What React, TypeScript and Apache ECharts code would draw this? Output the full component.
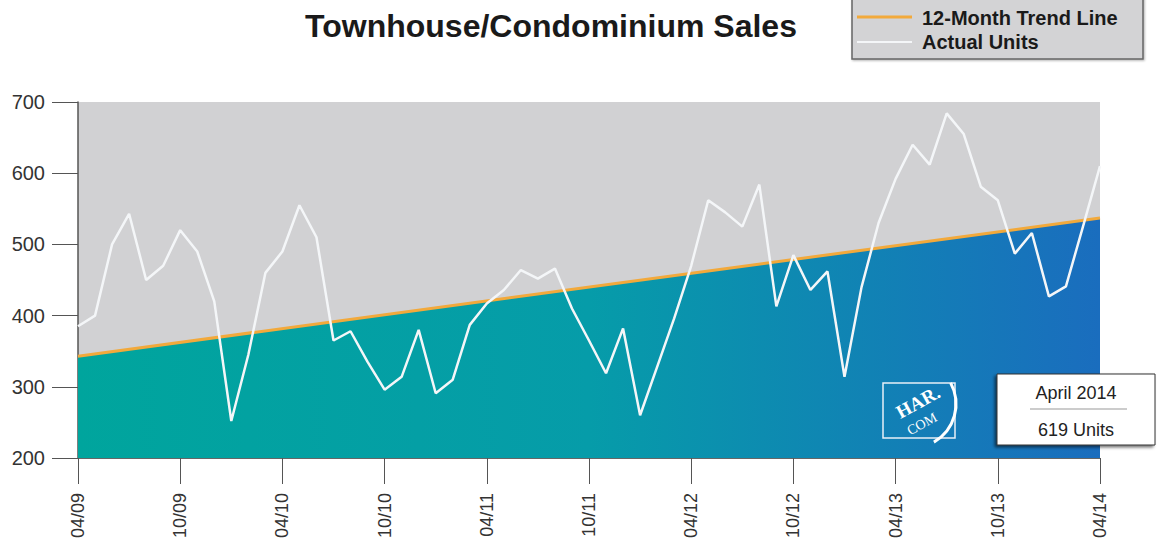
import React, { useEffect, useRef } from "react";
import * as echarts from "echarts";

// Month labels 04/09 .. 04/14
const startYear = 2009;
const startMonth = 4;
const monthCount = 61;
const months: string[] = [];
for (let i = 0; i < monthCount; i++) {
  const idx = startMonth - 1 + i;
  const m = (idx % 12) + 1;
  const y = (startYear + Math.floor(idx / 12)) % 100;
  months.push(`${String(m).padStart(2, "0")}/${String(y).padStart(2, "0")}`);
}

// Actual monthly units
const actualUnits: number[] = [
  385, 400, 500, 543, 450, 470, 520, 490, 420, 252,
  345, 460, 490, 555, 510, 365, 378, 335, 296, 314,
  380, 291, 310, 387, 417, 436, 464, 452, 466, 410,
  365, 319, 382, 260, 328, 396, 470, 562, 545, 525,
  584, 413, 485, 436, 462, 314, 440, 530, 592, 640,
  612, 684, 655, 581, 562, 487, 516, 427, 441, 525,
  610,
];

// 12-month trend line: straight line, end points
const trendStart = 343;
const trendEnd = 537;
const trendLine: (number | null)[] = months.map((_, i) =>
  i === 0 ? trendStart : i === monthCount - 1 ? trendEnd : null
);

const yTicks = { min: 200, max: 700, interval: 100 };

const titleText = "Townhouse/Condominium Sales";
const legendLabels = ["12-Month Trend Line", "Actual Units"];
const calloutLines = ["April 2014", "619 Units"];

const FONT = "'Liberation Sans', Arial, Helvetica, sans-serif";
const SERIF = "'Liberation Serif', 'DejaVu Serif', serif";

export default function App() {
  const ref = useRef<HTMLDivElement>(null);
  useEffect(() => {
    if (!ref.current) return;
    const chart = echarts.init(ref.current, null, { renderer: "svg" });
    chart.setOption({
      animation: false,
      grid: {
        left: 78,
        right: 59,
        top: 102,
        bottom: 90,
        show: true,
        backgroundColor: "#d1d1d3",
        borderWidth: 0,
      },
      xAxis: {
        type: "category",
        data: months,
        boundaryGap: false,
        axisLine: { show: true, lineStyle: { color: "#666", width: 1 } },
        axisTick: { show: true, interval: 5, length: 26, lineStyle: { color: "#555" } },
        axisLabel: {
          interval: 5,
          rotate: 90,
          margin: 35,
          fontSize: 18,
          color: "#333",
          fontFamily: FONT,
        },
        splitLine: { show: false },
      },
      yAxis: {
        type: "value",
        min: yTicks.min,
        max: yTicks.max,
        interval: yTicks.interval,
        axisLine: { show: true, lineStyle: { color: "#555", width: 1.5 } },
        axisTick: { show: true, length: 26, lineStyle: { color: "#555" } },
        axisLabel: { margin: 33, fontSize: 20, color: "#333", fontFamily: FONT },
        splitLine: { show: false },
      },
      series: [
        {
          name: legendLabels[0],
          type: "line",
          data: trendLine,
          connectNulls: true,
          symbol: "none",
          lineStyle: { color: "#f2a93b", width: 3 },
          areaStyle: {
            origin: "start",
            opacity: 1,
            color: new echarts.graphic.LinearGradient(0, 0, 1, 0, [
              { offset: 0, color: "#00a59d" },
              { offset: 0.5, color: "#069ca9" },
              { offset: 1, color: "#1a6dbe" },
            ]),
          },
          z: 2,
        },
        {
          name: legendLabels[1],
          type: "line",
          data: actualUnits,
          symbol: "none",
          lineStyle: { color: "#f4f6f8", width: 2.5 },
          z: 3,
        },
      ],
      graphic: [
        {
          type: "text",
          x: 551,
          y: 26,
          style: {
            text: titleText,
            fontSize: 32,
            fontWeight: "bold",
            fontFamily: FONT,
            fill: "#1a1a1a",
            align: "center",
            verticalAlign: "middle",
          },
        },
        // legend box
        {
          type: "rect",
          shape: { x: 852, y: -5, width: 291, height: 64 },
          style: {
            fill: "#d3d3d5",
            stroke: "#666",
            lineWidth: 1.5,
            shadowBlur: 2,
            shadowOffsetX: 1,
            shadowOffsetY: 1,
            shadowColor: "rgba(0,0,0,0.3)",
          },
          z: 50,
        },
        {
          type: "line",
          shape: { x1: 857, y1: 17, x2: 912, y2: 17 },
          style: { stroke: "#f2a93b", lineWidth: 3 },
          z: 51,
        },
        {
          type: "line",
          shape: { x1: 857, y1: 42, x2: 912, y2: 42 },
          style: { stroke: "#f4f6f8", lineWidth: 2 },
          z: 51,
        },
        {
          type: "text",
          x: 922,
          y: 18,
          style: {
            text: legendLabels[0],
            fontSize: 20,
            fontWeight: "bold",
            fontFamily: FONT,
            fill: "#1a1a1a",
            align: "left",
            verticalAlign: "middle",
          },
          z: 51,
        },
        {
          type: "text",
          x: 922,
          y: 42,
          style: {
            text: legendLabels[1],
            fontSize: 20,
            fontWeight: "bold",
            fontFamily: FONT,
            fill: "#1a1a1a",
            align: "left",
            verticalAlign: "middle",
          },
          z: 51,
        },
        // HAR.COM logo
        {
          type: "rect",
          shape: { x: 883, y: 383, width: 72, height: 55 },
          style: { fill: "none", stroke: "#e8f0f8", lineWidth: 1.5 },
          z: 40,
        },
        {
          type: "text",
          x: 918,
          y: 402,
          rotation: 0.5,
          style: {
            text: "HAR.",
            fontSize: 19,
            fontWeight: "bold",
            fontFamily: SERIF,
            fill: "#ffffff",
            align: "center",
            verticalAlign: "middle",
          },
          z: 41,
        },
        {
          type: "text",
          x: 922,
          y: 424,
          rotation: 0.5,
          style: {
            text: "COM",
            fontSize: 14,
            fontFamily: SERIF,
            fill: "#ffffff",
            align: "center",
            verticalAlign: "middle",
          },
          z: 41,
        },
        {
          type: "arc",
          shape: { cx: 912, cy: 404, r: 44, startAngle: -0.5, endAngle: 1.05, clockwise: true },
          style: { stroke: "#ffffff", lineWidth: 3, fill: "none" },
          z: 41,
        },
        // callout box
        {
          type: "rect",
          shape: { x: 997, y: 374, width: 158, height: 71 },
          style: {
            fill: "#ffffff",
            stroke: "#333",
            lineWidth: 1,
            shadowBlur: 3,
            shadowOffsetX: -2,
            shadowOffsetY: 2,
            shadowColor: "rgba(0,0,0,0.55)",
          },
          z: 60,
        },
        {
          type: "text",
          x: 1076,
          y: 393,
          style: {
            text: calloutLines[0],
            fontSize: 18,
            fontFamily: FONT,
            fill: "#222",
            align: "center",
            verticalAlign: "middle",
          },
          z: 61,
        },
        {
          type: "line",
          shape: { x1: 1030, y1: 409, x2: 1127, y2: 409 },
          style: { stroke: "#999", lineWidth: 1 },
          z: 61,
        },
        {
          type: "text",
          x: 1076,
          y: 430,
          style: {
            text: calloutLines[1],
            fontSize: 18,
            fontFamily: FONT,
            fill: "#222",
            align: "center",
            verticalAlign: "middle",
          },
          z: 61,
        },
      ],
    });
    return () => chart.dispose();
  }, []);
  return (
    <div
      ref={ref}
      style={{ position: "fixed", left: 0, top: 0, width: 1159, height: 548, background: "#ffffff" }}
    />
  );
}
